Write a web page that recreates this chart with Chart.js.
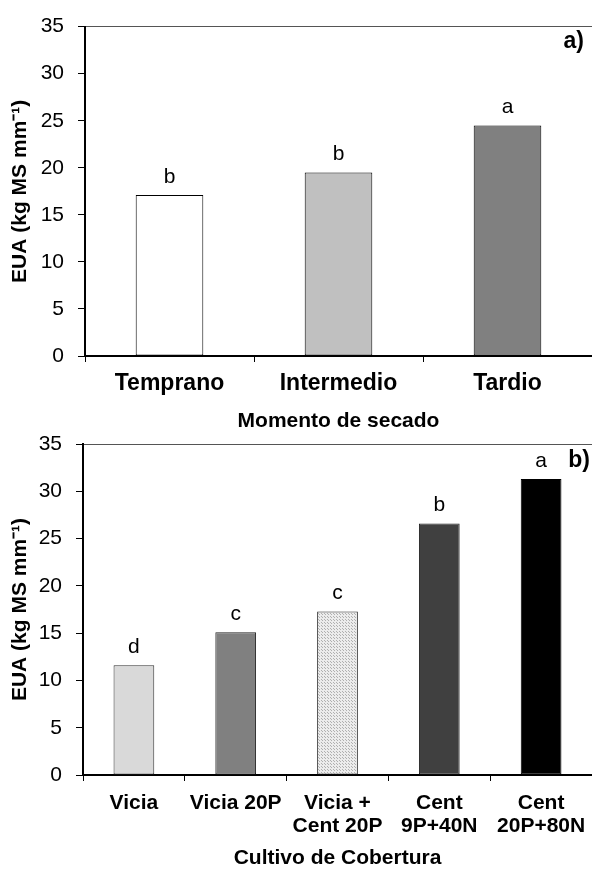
<!DOCTYPE html>
<html>
<head>
<meta charset="utf-8">
<script src="https://cdn.jsdelivr.net/npm/chart.js@4.4.1/dist/chart.umd.min.js"></script>
<style>
  html, body { margin: 0; padding: 0; background: #fff; }
  body { width: 592px; height: 869px; position: relative; overflow: hidden; }
  canvas { position: absolute; left: 0; }
  #cA { top: 0; }
  #cB { top: 415px; }
</style>
</head>
<body>
<canvas id="cA" width="592" height="435"></canvas>
<canvas id="cB" width="592" height="454"></canvas>
<script>
// ---- data ----
const categoriesA = ['Temprano', 'Intermedio', 'Tardio'];
const valuesA = [17.1, 19.5, 24.5];
const lettersA = ['b', 'b', 'a'];

const categoriesB = [['Vicia'], ['Vicia 20P'], ['Vicia +', 'Cent 20P'], ['Cent', '9P+40N'], ['Cent', '20P+80N']];
const valuesB = [11.6, 15.1, 17.3, 26.6, 31.3];
const lettersB = ['d', 'c', 'c', 'b', 'a'];

const yMin = 0, yMax = 35, yStep = 5;
const yTitle = 'EUA (kg MS mm\u207B\u00B9)';
const xTitleA = 'Momento de secado';
const xTitleB = 'Cultivo de Cobertura';

const FONT = "'Liberation Sans', Arial, Helvetica, sans-serif";

function dotPattern() {
  const c = document.createElement('canvas');
  c.width = 3; c.height = 3;
  const g = c.getContext('2d');
  g.fillStyle = '#ececec';
  g.fillRect(0, 0, 3, 3);
  g.fillStyle = '#b0b0b0';
  g.fillRect(0, 0, 1, 1);
  g.fillRect(1, 1, 1, 1);
  return g.createPattern(c, 'repeat');
}

function lettersPlugin(letters) {
  return {
    id: 'letters',
    afterDatasetsDraw(chart) {
      const ctx = chart.ctx;
      const meta = chart.getDatasetMeta(0);
      ctx.save();
      ctx.font = '21px ' + FONT;
      ctx.fillStyle = '#000';
      ctx.textAlign = 'center';
      ctx.textBaseline = 'alphabetic';
      meta.data.forEach((bar, i) => {
        ctx.fillText(letters[i], bar.x, bar.y - 12);
      });
      ctx.restore();
    }
  };
}

function panelLabelPlugin(text, x, y) {
  return {
    id: 'panelLabel',
    afterDraw(chart) {
      const ctx = chart.ctx;
      ctx.save();
      ctx.font = 'bold 23px ' + FONT;
      ctx.fillStyle = '#000';
      ctx.textAlign = 'right';
      ctx.textBaseline = 'middle';
      ctx.fillText(text, x, y);
      ctx.restore();
    }
  };
}

function makeChart(id, cats, vals, colors, borders, letters, xTitle, opts) {
  return new Chart(document.getElementById(id), {
    type: 'bar',
    data: {
      labels: cats,
      datasets: [{
        data: vals,
        backgroundColor: colors,
        borderColor: borders,
        borderWidth: 1,
        borderSkipped: false,
        categoryPercentage: 1,
        barPercentage: 0.4
      }]
    },
    options: {
      responsive: false,
      animation: false,
      devicePixelRatio: 1,
      layout: { padding: { left: 0, right: 0, top: opts.top, bottom: 0 } },
      plugins: { legend: { display: false }, tooltip: { enabled: false } },
      scales: {
        x: {
          grid: { display: true, drawOnChartArea: false, drawTicks: true, tickLength: 6, tickColor: '#000', offset: true },
          border: { display: true, color: '#000', width: 2 },
          ticks: {
            autoSkip: false, maxRotation: 0, minRotation: 0,
            color: '#000', padding: opts.xTickPad,
            font: { family: FONT, size: opts.xFont, weight: 'bold', lineHeight: 1.1 }
          },
          title: {
            display: true, text: xTitle, color: '#000',
            font: { family: FONT, size: 21, weight: 'bold', lineHeight: 1.0 },
            padding: { top: 0, bottom: opts.xTitlePad }
          },
          afterFit(s) { s.height = opts.xHeight; s.paddingLeft = 0; s.paddingRight = 0; }
        },
        y: {
          min: yMin, max: yMax,
          ticks: {
            stepSize: yStep, color: '#000', padding: 14,
            font: { family: FONT, size: 21 }
          },
          grid: {
            drawTicks: true, tickLength: 7, tickColor: '#000',
            color: (c) => (c.tick && c.tick.value === yMax) ? '#555' : 'rgba(0,0,0,0)',
            lineWidth: 1
          },
          border: { display: true, color: '#000', width: 2 },
          title: {
            display: true, text: yTitle, color: '#000',
            font: { family: FONT, size: 21, weight: 'bold', lineHeight: 1.2 },
            padding: { top: 8, bottom: 0 }
          },
          afterFit(s) { s.width = opts.yWidth; }
        }
      }
    },
    plugins: [lettersPlugin(letters), panelLabelPlugin(opts.label, opts.labelX, opts.labelY)]
  });
}

makeChart('cA', categoriesA, valuesA,
  ['#ffffff', '#c0c0c0', '#808080'],
  ['#000', '#000', '#000'],
  lettersA, xTitleA,
  { top: 20, xHeight: 79, xTickPad: 9, xFont: 23, xTitlePad: 3, yWidth: 85, label: 'a)', labelX: 584, labelY: 42 });

makeChart('cB', categoriesB, valuesB,
  ['#d9d9d9', '#808080', dotPattern(), '#404040', '#000000'],
  ['#333', '#222', '#222', '#222', '#000'],
  lettersB, xTitleB,
  { top: 29, xHeight: 94, xTickPad: 11, xFont: 21, xTitlePad: 0, yWidth: 83, label: 'b)', labelX: 590, labelY: 46 });
</script>
</body>
</html>
